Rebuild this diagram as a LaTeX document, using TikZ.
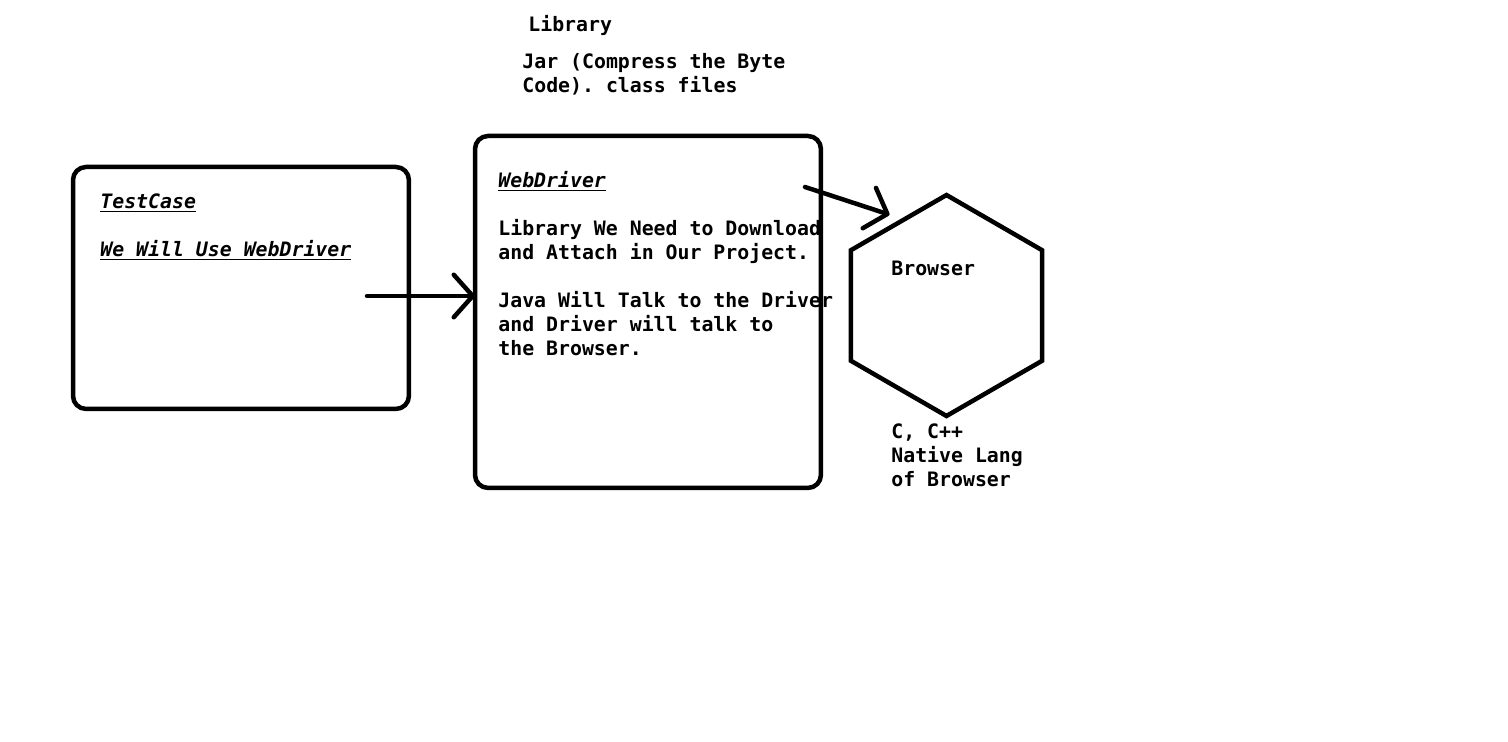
\documentclass[tikz,border=0pt]{standalone}
\usepackage{fontspec}
\setmonofont{DejaVu Sans Mono}
\usetikzlibrary{arrows.meta,shapes.geometric}

\begin{document}
\begin{tikzpicture}[x=0.02cm, y=-0.02cm,
  box/.style={draw, line width=0.09cm, rounded corners=0.26cm, inner sep=0pt, outer sep=0pt, anchor=north west},
  lbl/.style={font=\ttfamily\bfseries\fontsize{11.3}{13.66}\selectfont, inner sep=0pt, anchor=base west, align=left},
  arr/.style={line width=0.09cm, line cap=round, -{Straight Barb[length=0.38cm, width=0.85cm, round]}}]

\useasboundingbox (0,0) rectangle (1508,742);

% Library note on top (multi-line nodes sit on their last baseline)
\node[lbl] (lib) at (528,32) {Library};
\node[lbl] (jar) at (522,93) {Jar (Compress the Byte\\Code). class files};

% TestCase box
\node[lbl] (tctext) at (100,257) {\underline{\itshape TestCase}\\ \mbox{}\\ \underline{\itshape We Will Use WebDriver}};
\node[box, minimum width=6.72cm, minimum height=4.84cm] (tc) at (73,167) {};

% WebDriver box
\node[lbl] (wdtext) at (498,356) {\underline{\itshape WebDriver}\\ \mbox{}\\ Library We Need to Download\\and Attach in Our Project.\\ \mbox{}\\ Java Will Talk to the Driver\\and Driver will talk to\\the Browser.};
\node[box, minimum width=6.92cm, minimum height=7.04cm] (wd) at (475,136) {};

% Browser hexagon
\node[draw, line width=0.09cm, regular polygon, regular polygon sides=6, shape border rotate=30,
  minimum size=4.42cm, inner sep=0pt] (br) at (946.5,305.5) {};
\node[lbl] (brtext) at (891,276) {Browser};
\node[lbl] (lang) at (891,487) {C, C++\\Native Lang\\of Browser};

% connectors
\coordinate (tcout) at (367,296);
\coordinate (wdout) at (805,187);
\draw[arr] (tcout) -- (tcout -| wd.west);
\draw[arr] (wdout) -- ([shift={(-8,-6)}]br.120);

\end{tikzpicture}
\end{document}
